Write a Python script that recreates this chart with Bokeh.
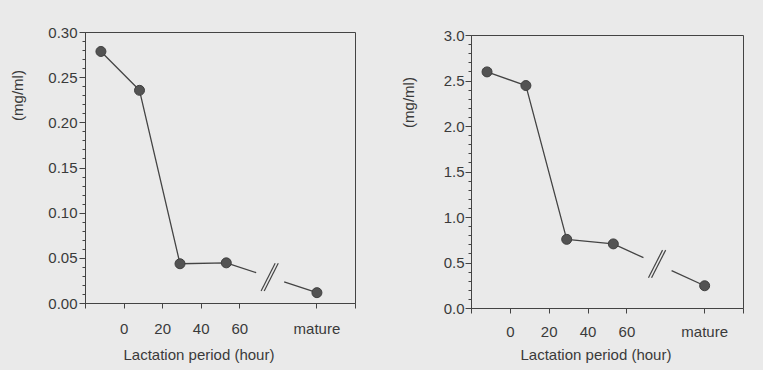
import numpy as np
from math import radians, pi
from bokeh.plotting import figure
from bokeh.layouts import row, column
from bokeh.models import FixedTicker, PrintfTickFormatter, Range1d, Title, Spacer
from bokeh.core.properties import value
from bokeh.embed import file_html
from bokeh.resources import INLINE

# ---- data ----
hours = [-12, 8, 29, 53, 100]          # 100 = "mature" position on the broken axis
left_values = [0.279, 0.236, 0.044, 0.045, 0.012]
right_values = [2.60, 2.45, 0.76, 0.71, 0.25]
x_ticks = [-20, 0, 20, 40, 60, 100, 120]
x_tick_labels = {-20: "", 0: "0", 20: "20", 40: "40", 60: "60", 100: "mature", 120: ""}
break_from, break_to, break_mark = 68.5, 83.0, 75.5
y_title = "(mg/ml)"
x_title = "Lactation period (hour)"

BG = "#eaeaea"
INK = "#444444"
TXT = "#3a3a3a"
FONT = "Liberation Sans"
H = 370


def title_strip(width, cx, cy):
    """Narrow strip holding the rotated y-axis title."""
    t = figure(width=width, height=H, output_backend="svg", toolbar_location=None,
               title=None,
               x_range=Range1d(0, width), y_range=Range1d(H, 0),
               x_axis_type=None, y_axis_type=None,
               min_border_left=0, min_border_right=0, min_border_top=0, min_border_bottom=0)
    t.background_fill_color = BG
    t.border_fill_color = BG
    t.outline_line_color = None
    t.grid.visible = False
    t.text(x=[cx], y=[cy], text=[y_title], angle=pi / 2, text_align="center",
           text_baseline="middle", text_font=value(FONT), text_font_size="15px",
           text_color=TXT)
    return t


def panel(values, ymax, yfmt, width, height, borders, xlab_standoff, xtitle):
    left, right, top, bottom = borders
    p = figure(width=width, height=height, output_backend="svg", toolbar_location=None,
               title=None,
               x_range=Range1d(-20, 120), y_range=Range1d(0, ymax),
               min_border_left=left, min_border_right=right,
               min_border_top=top, min_border_bottom=bottom)
    p.background_fill_color = BG
    p.border_fill_color = BG
    p.outline_line_color = INK
    p.outline_line_width = 1
    p.grid.visible = False

    xa = p.xaxis[0]
    xa.ticker = FixedTicker(ticks=x_ticks)
    xa.major_label_overrides = x_tick_labels
    xa.major_tick_in = 0
    xa.major_tick_out = 5
    xa.major_label_standoff = xlab_standoff

    ya = p.yaxis[0]
    ya.ticker = FixedTicker(ticks=list(np.linspace(0, ymax, 7)),
                            minor_ticks=list(np.linspace(0, ymax, 31)))
    ya.formatter = PrintfTickFormatter(format=yfmt)
    ya.major_tick_in = 0
    ya.major_tick_out = 6
    ya.minor_tick_in = 0
    ya.minor_tick_out = 3
    ya.major_label_standoff = 2

    for ax in (xa, ya):
        ax.axis_line_color = INK
        ax.major_tick_line_color = INK
        ax.minor_tick_line_color = INK if ax is ya else None
        ax.major_label_text_font = FONT
        ax.major_label_text_font_size = "15px"
        ax.major_label_text_color = TXT

    # connecting line, broken between break_from and break_to
    yb0 = float(np.interp(break_from, hours, values))
    yb1 = float(np.interp(break_to, hours, values))
    p.line(hours[:4] + [break_from], values[:4] + [yb0], line_color=INK, line_width=1.3)
    p.line([break_to, hours[4]], [yb1, values[4]], line_color=INK, line_width=1.3)
    # break marks "//"
    ym = float(np.interp(break_mark, hours, values))
    p.scatter([break_mark - 0.8, break_mark + 0.8], [ym, ym], marker="dash", size=31,
              angle=radians(63), line_color=INK, line_width=1.2)
    # points
    p.scatter(hours, values, size=10, fill_color="#535353", line_color="#404040", line_width=1)

    xoff, xstand = xtitle
    p.add_layout(Title(text=x_title, align="left", offset=xoff, standoff=xstand,
                       vertical_align="top",
                       text_font=FONT, text_font_size="15px", text_color=TXT,
                       text_font_style="normal"), "below")
    return p


t1 = title_strip(35, 17, 95)
p1 = panel(left_values, 0.30, "%.2f", 345, H, (50, 25, 32, 67), 11, (38, 12))
t2 = title_strip(48, 28, 102)
p2 = panel(right_values, 3.0, "%.1f", 335, H - 3, (43, 20, 32, 62), 9, (49, 6))
p2.yaxis[0].major_label_standoff = 1

sp = Spacer(width=335, height=3, styles={"background-color": BG})
p = row(column(t1), column(p1), column(t2), column(sp, p2))
p.styles = {"background-color": BG}

open("out.html", "w").write(file_html(p, INLINE))
